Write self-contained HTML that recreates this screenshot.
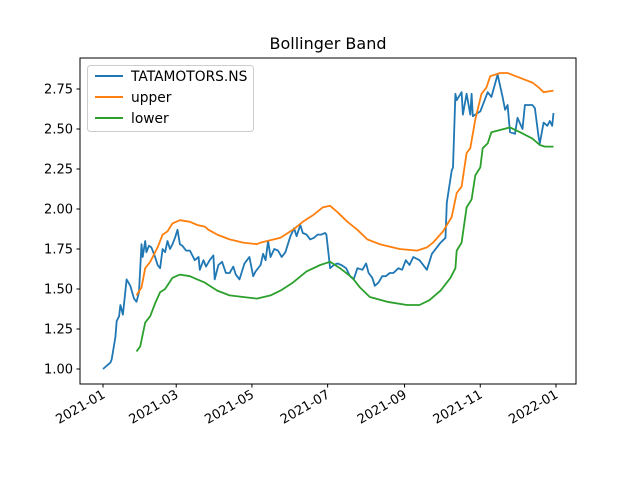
<!DOCTYPE html>
<html><head><meta charset="utf-8"><style>
html,body{margin:0;padding:0;background:#fff;}
svg{display:block;font-family:"DejaVu Sans","Liberation Sans",sans-serif;}
</style></head><body>
<svg id="chart" width="640" height="480" viewBox="0 0 640 480">
<rect width="640" height="480" fill="#fff"/>
<text x="328" y="49" text-anchor="middle" font-size="16">Bollinger Band</text>
<g id="plot"></g>
<rect x="80" y="58" width="496" height="326" fill="none" stroke="#000" stroke-width="1"/>
<g>
<rect x="87.5" y="65.5" width="166" height="66" rx="3" fill="#fff" fill-opacity="0.8" stroke="#ccc"/>
<line x1="95" y1="76" x2="123" y2="76" stroke="#1f77b4" stroke-width="2"/>
<text x="131" y="81" font-size="13.8">TATAMOTORS.NS</text>
<line x1="95" y1="97" x2="123" y2="97" stroke="#ff7f0e" stroke-width="2"/>
<text x="131" y="102" font-size="13.8">upper</text>
<line x1="95" y1="118" x2="123" y2="118" stroke="#2ca02c" stroke-width="2"/>
<text x="131" y="123" font-size="13.8">lower</text>
</g>
</svg>
<script>
const priceDays=[0,6,7,10,11,13,14,16,19,22,25,27,29,31,32,34,35,37,39,42,44,46,48,50,52,54,56,58,60,62,64,67,70,74,77,78,81,83,86,89,90,93,96,99,102,105,107,110,114,118,121,123,127,129,131,133,135,138,141,144,147,151,154,156,159,161,164,167,170,173,176,179,180,183,186,189,192,196,199,202,205,209,212,214,217,219,222,225,228,231,234,238,241,244,247,250,255,261,265,272,276,277,281,282,284,285,289,290,293,296,297,298,304,310,313,318,322,324,326,328,332,334,338,340,346,348,351,352,355,358,360,362,363];
const priceVals=[1.00,1.04,1.06,1.20,1.30,1.33,1.40,1.34,1.56,1.52,1.44,1.42,1.48,1.78,1.70,1.80,1.73,1.77,1.76,1.70,1.65,1.63,1.75,1.73,1.80,1.75,1.78,1.82,1.87,1.78,1.77,1.74,1.74,1.68,1.70,1.62,1.68,1.64,1.68,1.71,1.56,1.65,1.67,1.60,1.60,1.64,1.59,1.56,1.66,1.70,1.58,1.61,1.65,1.72,1.68,1.80,1.70,1.75,1.74,1.70,1.73,1.83,1.88,1.83,1.90,1.85,1.84,1.81,1.82,1.84,1.84,1.85,1.84,1.63,1.65,1.66,1.65,1.63,1.58,1.56,1.63,1.62,1.66,1.60,1.57,1.52,1.54,1.58,1.58,1.60,1.60,1.63,1.62,1.68,1.65,1.70,1.68,1.62,1.72,1.79,1.82,2.04,2.24,2.26,2.72,2.68,2.73,2.59,2.72,2.59,2.72,2.58,2.61,2.73,2.70,2.84,2.70,2.62,2.65,2.48,2.47,2.57,2.50,2.65,2.65,2.63,2.45,2.41,2.54,2.52,2.55,2.52,2.60];
const upperDays=[27,31,34,38,44,48,52,56,62,70,76,82,85,92,102,113,124,127,143,153,161,169,177,183,189,197,205,213,223,239,253,261,266,274,281,285,289,293,296,300,305,309,312,316,320,326,336,346,351,355,363];
const upperVals=[1.46,1.51,1.63,1.67,1.76,1.84,1.86,1.91,1.93,1.92,1.90,1.89,1.87,1.84,1.81,1.79,1.78,1.79,1.82,1.87,1.92,1.96,2.01,2.02,1.98,1.92,1.87,1.81,1.78,1.75,1.74,1.76,1.79,1.86,1.95,2.10,2.14,2.35,2.38,2.56,2.72,2.76,2.83,2.84,2.85,2.85,2.82,2.79,2.76,2.73,2.74];
const lowerDays=[27,30,34,38,42,46,50,56,62,70,76,82,92,102,113,124,135,143,153,164,175,183,191,201,207,215,229,245,255,263,272,280,284,285,289,293,297,300,304,306,310,313,318,328,336,346,352,356,363];
const lowerVals=[1.11,1.14,1.29,1.33,1.41,1.48,1.50,1.57,1.59,1.58,1.56,1.54,1.49,1.46,1.45,1.44,1.46,1.49,1.54,1.61,1.65,1.67,1.63,1.57,1.51,1.45,1.42,1.40,1.40,1.43,1.49,1.57,1.63,1.74,1.79,2.01,2.06,2.21,2.26,2.38,2.41,2.48,2.49,2.51,2.48,2.44,2.40,2.39,2.39];
const yTicks=[1.00,1.25,1.50,1.75,2.00,2.25,2.50,2.75];
const xTickDays=[0,59,120,181,243,304,365];
const xTickLabels=["2021-01","2021-03","2021-05","2021-07","2021-09","2021-11","2022-01"];

const NS="http://www.w3.org/2000/svg";
const plot=document.getElementById('plot');
function xs(d){return 103+d*1.241;}
function ys(v){return 369-(v-1)*160;}
function mk(tag,attrs){const e=document.createElementNS(NS,tag);for(const k in attrs)e.setAttribute(k,attrs[k]);plot.appendChild(e);return e;}

yTicks.forEach(t=>{
  const l=mk('line',{x1:76.5,x2:80,y1:ys(t),y2:ys(t),stroke:'#000'});
  
  
  const tx=mk('text',{x:73,y:ys(t)+4.5,'text-anchor':'end','font-size':'13'});
  tx.textContent=t.toFixed(2);
  
  
});
xTickDays.forEach((d,i)=>{
  const x=xs(d);
  const l=mk('line',{x1:x,x2:x,y1:384,y2:387.5,stroke:'#000'});
  
  
  const tx=mk('text',{x:x+3,y:397,'text-anchor':'end','font-size':'13',transform:`rotate(-30 ${x+3} 397)`});
  tx.textContent=xTickLabels[i];
  
  
});
function line(days,vals,color,name){
  const pts=days.map((d,i)=>xs(d).toFixed(1)+','+ys(vals[i]).toFixed(1)).join(' ');
  const p=mk('polyline',{points:pts,fill:'none',stroke:color,'stroke-width':1.8,'stroke-linejoin':'round'});
  
  
}
line(priceDays,priceVals,'#1f77b4','price-line');
line(upperDays,upperVals,'#ff7f0e','upper-band-line');
line(lowerDays,lowerVals,'#2ca02c','lower-band-line');
</script>
</body></html>
